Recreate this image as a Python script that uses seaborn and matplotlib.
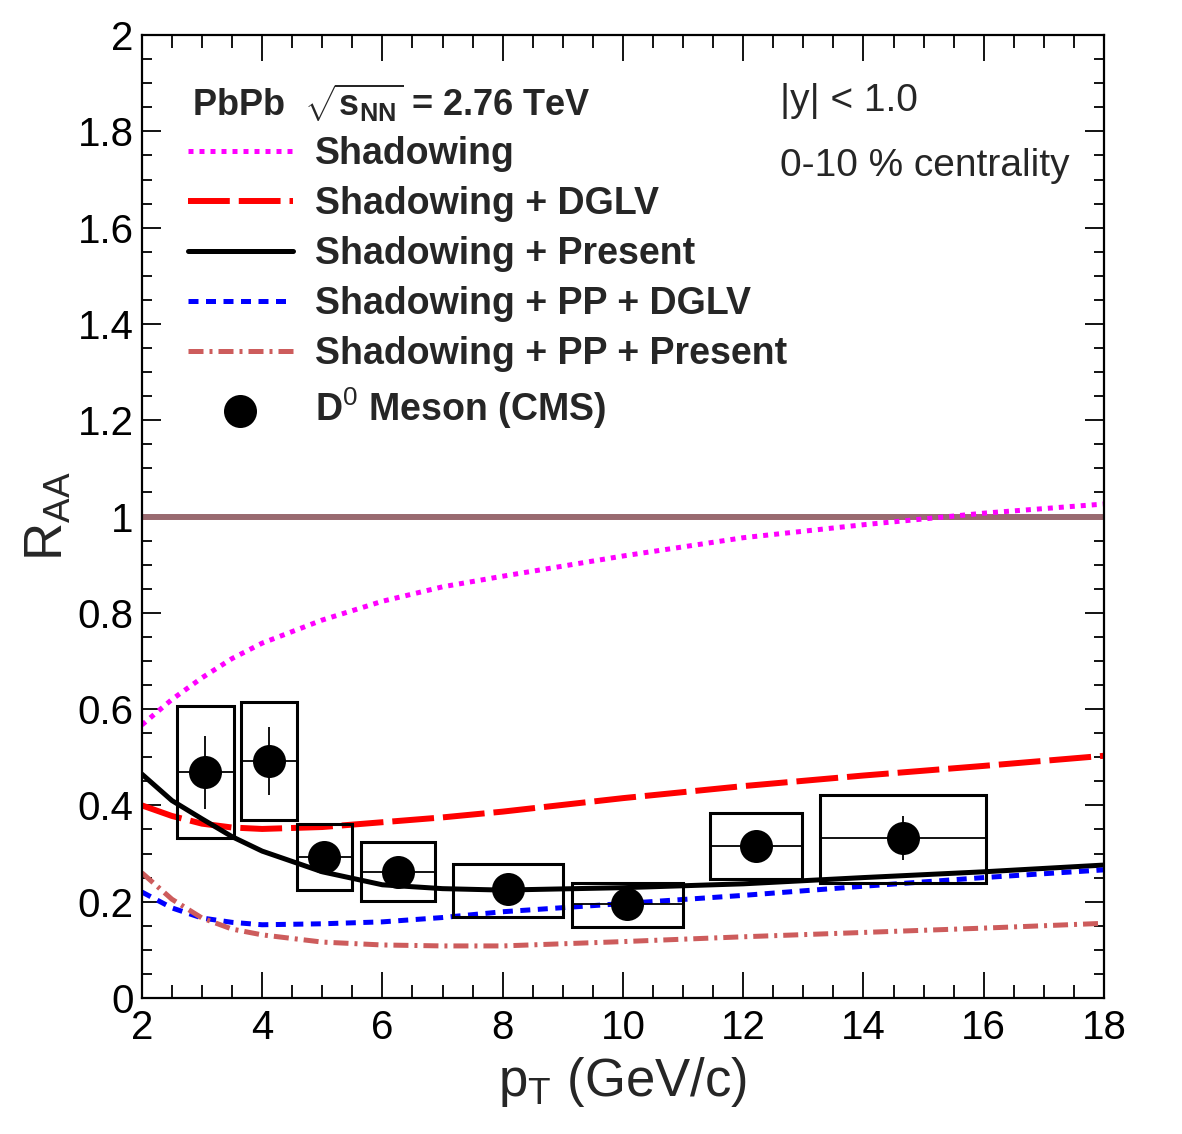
# R_AA of D0 mesons in PbPb collisions vs model curves

import numpy as np
import pandas as pd
import matplotlib
matplotlib.use("Agg")
import matplotlib.pyplot as plt
from matplotlib.patches import Rectangle
from matplotlib.ticker import MultipleLocator, FuncFormatter
import seaborn as sns

# ==========================================================
# Data
# ==========================================================

pt_grid = [2.0, 2.5, 3.0, 3.5, 4.0, 5.0, 6.0, 7.0, 8.0, 10.0, 12.0, 14.0, 16.0, 18.0]

shadowing = [0.567, 0.62, 0.665, 0.705, 0.737, 0.785, 0.824, 0.854, 0.876, 0.918, 0.956, 0.983, 1.007, 1.026]
shadowing_dglv = [0.40, 0.378, 0.362, 0.354, 0.351, 0.355, 0.365, 0.375, 0.387, 0.415, 0.44, 0.462, 0.482, 0.503]
shadowing_present = [0.465, 0.41, 0.372, 0.335, 0.305, 0.262, 0.235, 0.227, 0.224, 0.229, 0.237, 0.25, 0.262, 0.276]
shadowing_pp_dglv = [0.22, 0.187, 0.166, 0.157, 0.152, 0.154, 0.158, 0.167, 0.179, 0.196, 0.213, 0.232, 0.25, 0.266]
shadowing_pp_present = [0.26, 0.205, 0.166, 0.143, 0.131, 0.116, 0.11, 0.108, 0.108, 0.117, 0.127, 0.136, 0.145, 0.155]

d0_pt = [3.05, 4.11, 5.03, 6.26, 8.09, 10.07, 12.21, 14.66]
d0_raa = [0.469, 0.492, 0.293, 0.262, 0.226, 0.195, 0.316, 0.332]
d0_stat = [0.076, 0.07, 0.02, 0.02, 0.02, 0.02, 0.02, 0.045]
d0_pt_lo = [2.58, 3.65, 4.58, 5.64, 7.17, 9.15, 11.45, 13.28]
d0_pt_hi = [3.53, 4.58, 5.49, 6.87, 9.0, 11.0, 12.98, 16.04]
d0_sys_lo = [0.332, 0.37, 0.224, 0.201, 0.168, 0.147, 0.247, 0.239]
d0_sys_hi = [0.606, 0.615, 0.361, 0.324, 0.278, 0.239, 0.384, 0.422]

curves = pd.DataFrame({
    "pt": pt_grid,
    "Shadowing": shadowing,
    "Shadowing + DGLV": shadowing_dglv,
    "Shadowing + Present": shadowing_present,
    "Shadowing + PP + DGLV": shadowing_pp_dglv,
    "Shadowing + PP + Present": shadowing_pp_present,
})

d0 = pd.DataFrame({"pt": d0_pt, "raa": d0_raa})

# ==========================================================
# Style
# ==========================================================

sns.set_theme(style="ticks")
plt.rcParams["font.family"] = ["Liberation Sans", "DejaVu Sans"]
plt.rcParams["mathtext.fontset"] = "custom"
plt.rcParams["mathtext.rm"] = "Liberation Sans"
plt.rcParams["mathtext.it"] = "Liberation Sans:italic"
plt.rcParams["mathtext.bf"] = "Liberation Sans:bold"

fig = plt.figure(figsize=(11.82, 11.34), dpi=100)
ax = fig.add_axes([0.120, 0.120, 0.814, 0.849])

# ==========================================================
# Curves
# ==========================================================

styles = {
    "Shadowing": dict(color="#ff00ff", linewidth=3.6, linestyle=(0, (1, 1.2))),
    "Shadowing + DGLV": dict(color="#ff0000", linewidth=4.3, linestyle=(0, (7, 1.5))),
    "Shadowing + Present": dict(color="black", linewidth=3.6, linestyle="-"),
    "Shadowing + PP + DGLV": dict(color="#0000ff", linewidth=3.6, linestyle=(0, (2, 1.5))),
    "Shadowing + PP + Present": dict(color="#cd5c5c", linewidth=3.6, linestyle=(0, (3, 1.2, 0.6, 1.2))),
}

for name, kw in styles.items():
    sns.lineplot(data=curves, x="pt", y=name, ax=ax, label=name, **kw)

ax.axhline(1.0, color="#996a70", linewidth=4.3, zorder=1)

# ==========================================================
# D0 data: systematic boxes, error bars, points
# ==========================================================

for x, lo, hi, slo, shi in zip(d0_pt, d0_pt_lo, d0_pt_hi, d0_sys_lo, d0_sys_hi):
    ax.add_patch(Rectangle((lo, slo), hi - lo, shi - slo, fill=False,
                           edgecolor="black", linewidth=2.2, zorder=3))

xerr = [np.array(d0_pt) - np.array(d0_pt_lo), np.array(d0_pt_hi) - np.array(d0_pt)]
ax.errorbar(d0_pt, d0_raa, xerr=xerr, yerr=d0_stat, fmt="none",
            ecolor="black", elinewidth=1.3, capsize=0, zorder=3)

sns.scatterplot(data=d0, x="pt", y="raa", ax=ax, s=22 ** 2, color="black",
                edgecolor="black", marker="o", zorder=4,
                label="D$^{0}$ Meson (CMS)")

# ==========================================================
# Axes
# ==========================================================

ax.set_xlim(2, 18)
ax.set_ylim(0, 2)
ax.xaxis.set_major_locator(MultipleLocator(2))
ax.xaxis.set_minor_locator(MultipleLocator(0.5))
ax.yaxis.set_major_locator(MultipleLocator(0.2))
ax.yaxis.set_minor_locator(MultipleLocator(0.05))
ax.yaxis.set_major_formatter(FuncFormatter(lambda v, _: f"{v:.2g}"))

ax.tick_params(axis="both", which="both", direction="in", top=True, right=True,
               labelsize=29, width=1.3, colors="black")
ax.tick_params(axis="x", which="major", length=19, pad=8)
ax.tick_params(axis="x", which="minor", length=9.5)
ax.tick_params(axis="y", which="major", length=14, pad=6)
ax.tick_params(axis="y", which="minor", length=7)

for sp in ax.spines.values():
    sp.set_linewidth(1.6)
    sp.set_color("black")

ax.set_xlabel("p$_{\\mathregular{T}}$ (GeV/c)", fontsize=38, labelpad=6)
ax.set_ylabel("R$_{\\mathregular{AA}}$", fontsize=38, labelpad=3)

# ==========================================================
# Legend and labels
# ==========================================================

ax.legend(loc="upper left", bbox_to_anchor=(0.0475, 0.895), frameon=False,
          prop={"weight": "bold", "size": 27},
          handlelength=2.8, handletextpad=0.6, labelspacing=0.37,
          borderpad=0, borderaxespad=0, markerscale=1.0)

ax.text(0.052, 0.93, "PbPb  $\\mathbf{\\sqrt{s_{NN}}}$ = 2.76 TeV", transform=ax.transAxes,
        fontsize=26, fontweight="bold", va="center", ha="left")
ax.text(0.663, 0.932, "|y| < 1.0", transform=ax.transAxes,
        fontsize=28, va="center", ha="left")
ax.text(0.663, 0.864, "0-10 % centrality", transform=ax.transAxes,
        fontsize=28, va="center", ha="left")

plt.savefig("out.png", dpi=100)
